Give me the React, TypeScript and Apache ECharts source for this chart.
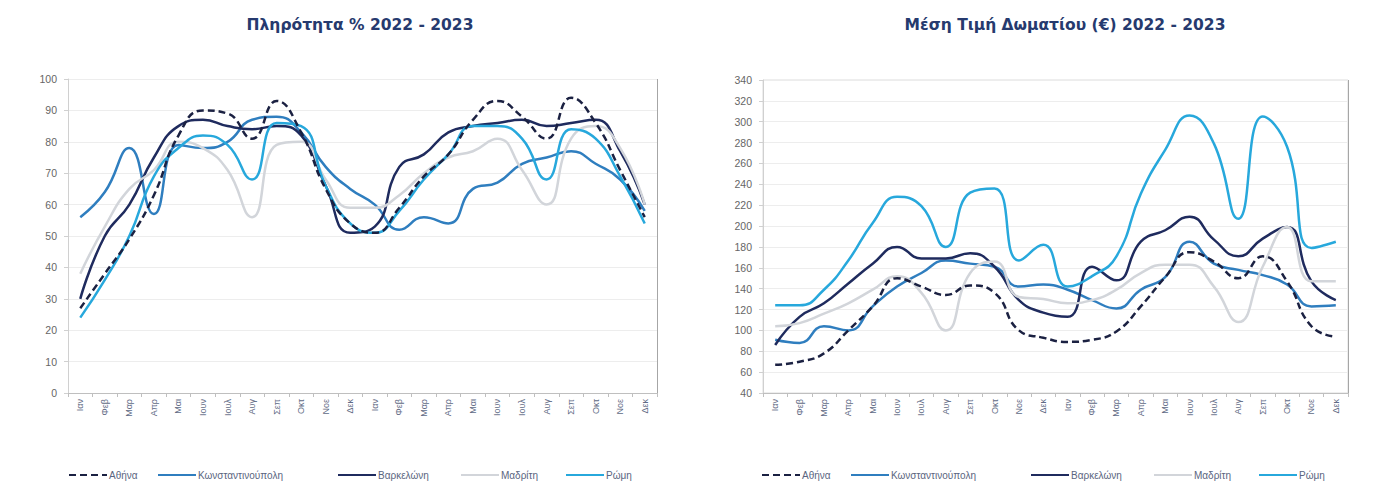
import React, { useEffect, useRef } from "react";
import * as echarts from "echarts";

const months = ["Ιαν", "Φεβ", "Μαρ", "Απρ", "Μαι", "Ιουν", "Ιουλ", "Αυγ", "Σεπ", "Οκτ", "Νοε", "Δεκ"];
const categories = [...months, ...months];

const cities = ["Αθήνα", "Κωνσταντινούπολη", "Βαρκελώνη", "Μαδρίτη", "Ρώμη"];

// Πληρότητα % (Jan 2022 .. Dec 2023)
const occAthens = [27, 38, 49, 63, 82, 90, 89, 81, 93, 83, 65, 54, 51, 59, 69, 76, 87, 93, 88, 81, 94, 86, 71, 56];
const occIstanbul = [56, 64, 78, 57, 79, 78, 80, 87, 88, 83, 72, 65, 60, 52, 56, 54, 65, 67, 73, 75, 77, 73, 68, 58];
const occBarcelona = [30, 50, 60, 75, 85, 87, 85, 84, 85, 82, 66, 51, 53, 72, 76, 83, 85, 86, 87, 85, 86, 87, 77, 60];
const occMadrid = [38, 53, 65, 71, 80, 78, 71, 56, 79, 80, 68, 59, 59, 63, 70, 75, 77, 81, 71, 60, 81, 85, 78, 60];
const occRome = [24, 36, 50, 69, 78, 82, 79, 68, 86, 85, 66, 54, 51, 58, 68, 76, 85, 85, 81, 68, 84, 81, 69, 54];

// Μέση Τιμή Δωματίου (€)
const adrAthens = [67, 70, 78, 100, 123, 150, 142, 134, 143, 136, 100, 93, 89, 91, 99, 123, 151, 175, 166, 150, 171, 147, 104, 94];
const adrIstanbul = [91, 88, 104, 100, 123, 142, 155, 167, 164, 161, 142, 144, 139, 129, 121, 139, 151, 185, 164, 158, 153, 144, 123, 124];
const adrBarcelona = [86, 113, 126, 145, 164, 180, 169, 169, 174, 161, 129, 117, 113, 161, 148, 185, 196, 209, 187, 171, 188, 199, 147, 129];
const adrMadrid = [104, 107, 116, 126, 139, 152, 136, 100, 155, 166, 132, 130, 126, 129, 139, 155, 163, 163, 142, 108, 161, 199, 147, 147];
const adrRome = [124, 124, 139, 167, 203, 228, 219, 180, 232, 236, 167, 182, 142, 152, 171, 231, 273, 306, 279, 207, 305, 276, 179, 185];

const colors = ["#1b2142", "#2f7ebf", "#1f2b5e", "#d2d5da", "#27a8dc"];

const occData = [occAthens, occIstanbul, occBarcelona, occMadrid, occRome];
const adrData = [adrAthens, adrIstanbul, adrBarcelona, adrMadrid, adrRome];

const legendLeft = [68, 157, 337, 460, 565];
const RIGHT_OFFSET = 693;

const FONT = "'Liberation Sans', Arial, sans-serif";
const WIDE = "'DejaVu Sans', sans-serif";

function makeSeries(data: number[][], idx: number) {
  return data.map((vals, i) => ({
    name: cities[i],
    type: "line",
    xAxisIndex: idx,
    yAxisIndex: idx,
    data: vals,
    smooth: 0.5,
    symbol: "none",
    showSymbol: false,
    color: colors[i],
    lineStyle: {
      color: colors[i],
      width: 2.5,
      type: i === 0 ? [7, 4] : "solid",
    },
    z: i === 0 ? 8 : 3 + i,
  }));
}

function xAxis(idx: number) {
  return {
    type: "category",
    gridIndex: idx,
    data: categories,
    boundaryGap: true,
    axisLine: { lineStyle: { color: "#bfbfbf" } },
    axisTick: { show: true, length: 4, lineStyle: { color: "#bfbfbf" } },
    axisLabel: {
      rotate: 90,
      interval: 0,
      color: "#5f6b85",
      fontSize: 9,
      fontFamily: FONT,
      margin: 6,
    },
    splitLine: {
      show: true,
      interval: (index: number) => index === 12,
      lineStyle: { color: "#a6a6a6", width: 1 },
    },
  };
}

function yAxis(idx: number, min: number, max: number, interval: number) {
  return {
    type: "value",
    gridIndex: idx,
    min,
    max,
    interval,
    axisLine: { show: true, lineStyle: { color: "#d0d0d0" } },
    axisTick: { show: true, length: 4, lineStyle: { color: "#d0d0d0" } },
    axisLabel: { color: "#666666", fontSize: 10.5, fontFamily: FONT, margin: 11 },
    splitLine: { show: true, lineStyle: { color: "#ededed", width: 1 } },
  };
}

function legends(offset: number) {
  return cities.map((name, i) => ({
    left: legendLeft[i] + offset,
    top: 470,
    padding: 0,
    itemWidth: 38,
    itemHeight: 10,
    itemGap: 0,
    data: [name],
    itemStyle: { opacity: 0 },
    textStyle: { color: "#5a6580", fontSize: 10, fontFamily: FONT, padding: [0, 0, 0, -3] },
  }));
}

export default function App() {
  const ref = useRef<HTMLDivElement>(null);

  useEffect(() => {
    document.body.style.margin = "0";
    if (!ref.current) return;
    const chart = echarts.init(ref.current, undefined, { renderer: "svg" });
    chart.setOption({
      animation: false,
      backgroundColor: "#ffffff",
      title: [
        {
          text: "Πληρότητα % 2022 - 2023",
          left: 355,
          top: 12,
          textAlign: "center",
          textStyle: { color: "#263a6e", fontSize: 15.5, fontWeight: "bold", fontFamily: WIDE },
        },
        {
          text: "Μέση Τιμή Δωματίου (€) 2022 - 2023",
          left: 1060,
          top: 12,
          textAlign: "center",
          textStyle: { color: "#263a6e", fontSize: 15.5, fontWeight: "bold", fontFamily: WIDE },
        },
      ],
      legend: [...legends(0), ...legends(RIGHT_OFFSET)],
      grid: [
        { left: 68, right: 727, top: 79, bottom: 94 },
        { left: 763, right: 36, top: 80, bottom: 94, show: true, borderColor: "#dcdcdc", borderWidth: 1 },
      ],
      xAxis: [xAxis(0), xAxis(1)],
      yAxis: [yAxis(0, 0, 100, 10), yAxis(1, 40, 340, 20)],
      series: [...makeSeries(occData, 0), ...makeSeries(adrData, 1)],
    });
    return () => chart.dispose();
  }, []);

  return <div ref={ref} style={{ width: 1384, height: 487 }} />;
}
